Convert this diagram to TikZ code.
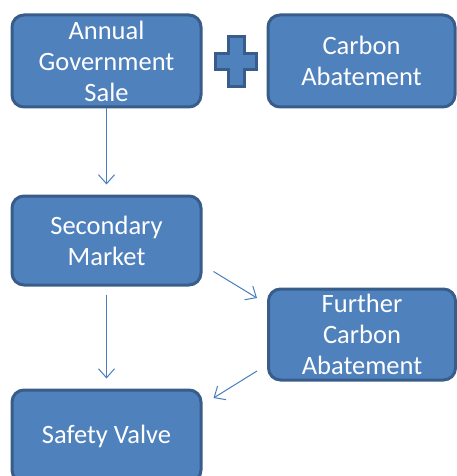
\documentclass[tikz,border=0pt]{standalone}
\usepackage{fontspec}
\setmainfont{Carlito}
\usetikzlibrary{arrows.meta}
\definecolor{boxfill}{HTML}{4F81BD}
\definecolor{boxline}{HTML}{385D8A}
\definecolor{arrowcol}{HTML}{4A7EBB}
\tikzset{
  flowbox/.style={draw=boxline, fill=boxfill, line width=3pt, rounded corners=12pt,
    text=white, align=center, inner sep=0pt, font=\fontsize{26.5}{31}\selectfont},
  flowarrow/.style={->, draw=arrowcol, line width=1pt}
}
\begin{document}
\begin{tikzpicture}[x=1pt, y=-1pt, >={Straight Barb[length=9pt,width=16pt]}]
            \useasboundingbox (0,0) rectangle (456,476);
            \node[flowbox, minimum width=189pt, minimum height=92pt] (sale) at (106.5,61) {Annual\\Government\\Sale};
            \node[flowbox, minimum width=187pt, minimum height=92pt] (abate) at (361.5,61) {Carbon\\Abatement};
            \node[flowbox, minimum width=189pt, minimum height=89pt] (market) at (106.5,240.5) {Secondary\\Market};
            \node[flowbox, minimum width=187pt, minimum height=91pt] (further) at (362,334.5) {Further\\Carbon\\Abatement};
            \node[flowbox, minimum width=189pt, minimum height=92pt] (valve) at (106.5,436) {Safety Valve};
            % plus sign
            \draw[boxline, fill=boxfill, line width=3pt]
              (228,37) -- (244,37) -- (244,54) -- (256,54) -- (256,70) -- (244,70) -- (244,87)
              -- (228,87) -- (228,70) -- (215,70) -- (215,54) -- (228,54) -- cycle;
            \draw[flowarrow, shorten >=10pt] (sale.south) -- (market.north);
            \draw[flowarrow, shorten <=8pt, shorten >=10pt] (market.south) -- (valve.north);
            \draw[flowarrow] ([shift={(11,31)}]market.east) -- ([shift={(-10,-36.5)}]further.west);
            \draw[flowarrow] ([shift={(-10,36.5)}]further.west) -- ([shift={(11,-38)}]valve.east);
        \end{tikzpicture}
\end{document}
